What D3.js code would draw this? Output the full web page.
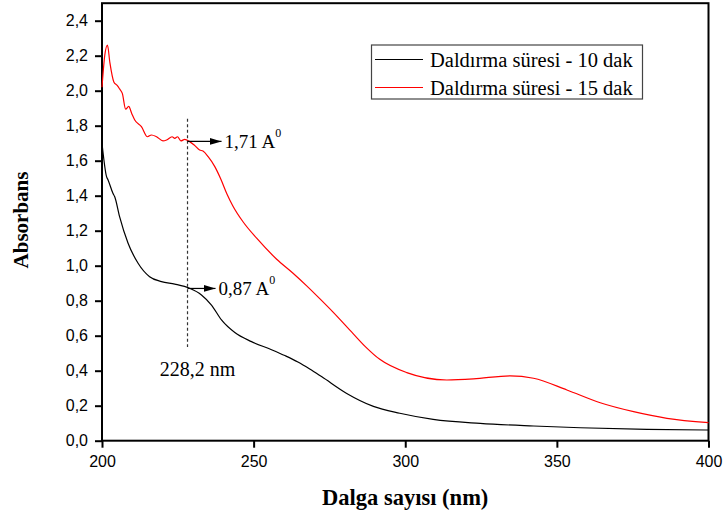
<!DOCTYPE html>
<html>
<head>
<meta charset="utf-8">
<script src="https://cdn.jsdelivr.net/npm/d3@7"></script>
<style>
  html, body { margin: 0; padding: 0; background: #fff; }
  svg { display: block; }
</style>
</head>
<body>
<svg id="chart" width="724" height="517"></svg>
<script>
// Wavelength (nm) and absorbance for the 10-minute immersion sample
const wl10 = [200, 201.5, 202, 203.6, 204.2, 205.8, 208.6, 211.9, 215.7, 219.6, 224, 228.9,
  232.8, 236.1, 239.4, 243.8, 249.3, 255.9, 260.5, 264.6, 268.5, 272.5, 280.7, 289.5, 298.2,
  309.2, 324.7, 342.3, 357.7, 379.7, 400];
const abs10 = [1.70, 1.509, 1.49, 1.414, 1.394, 1.28, 1.128, 1.014, 0.937, 0.909, 0.895, 0.871,
  0.833, 0.775, 0.69, 0.618, 0.566, 0.52, 0.485, 0.45, 0.41, 0.365, 0.27, 0.196, 0.157,
  0.122, 0.099, 0.084, 0.074, 0.065, 0.061];

// Wavelength (nm) and absorbance for the 15-minute immersion sample
const wl15 = [200, 200.9, 201.8, 202.6, 203.9, 205.0, 205.8, 206.7, 207.8, 208.8, 209.8, 210.8,
  213.0, 215.0, 216.3, 218.0, 220.1, 221.3, 223.1, 224.0, 224.9, 226.0, 227.3, 228.9,
  230.4, 232.2, 233.3, 235.0, 237.2, 239.2, 241.2, 243.2, 246.5, 251.0, 257.6, 263.0, 267.5,
  271.8, 276.2, 282.8, 287.0, 291.6, 300.5, 313.7, 322.5, 334.6, 342.3, 353.3, 364.3, 375.3,
  386.3, 400];
const abs15 = [2.02, 2.20, 2.26, 2.16, 2.05, 2.03, 2.01, 1.985, 1.895, 1.91, 1.87, 1.833,
  1.795, 1.737, 1.747, 1.737, 1.713, 1.718, 1.737, 1.728, 1.737, 1.713, 1.722, 1.709,
  1.69, 1.661, 1.655, 1.623, 1.566, 1.494, 1.41, 1.34, 1.251, 1.157, 1.037, 0.957, 0.885,
  0.812, 0.735, 0.612, 0.535, 0.465, 0.389, 0.347, 0.353, 0.371, 0.357, 0.29, 0.217, 0.166,
  0.128, 0.103];

const seriesNames = ["Daldırma süresi - 10 dak", "Daldırma süresi - 15 dak"];
const seriesColors = ["#000000", "#ff0000"];

const xTicks = [200, 250, 300, 350, 400];
const yTicks = [0, 0.2, 0.4, 0.6, 0.8, 1.0, 1.2, 1.4, 1.6, 1.8, 2.0, 2.2, 2.4];

// Marked shoulder position and the absorbances read there
const markWl = 228.2;
const markAbs = [0.87, 1.71];
const markLabels = ["0,87 A", "1,71 A"];
const markNote = "228,2 nm";

const xTitle = "Dalga sayısı (nm)";
const yTitle = "Absorbans";

const svg = d3.select("#chart");
const plotL = 102, plotR = 708.5, plotT = 3.2, plotB = 440.7;

const x = d3.scaleLinear().domain([200, 400]).range([plotL, plotR]);
const y = d3.scaleLinear().domain([0, 2.5]).range([plotB, plotT]);

const comma = d => d3.format(".1f")(d).replace(".", ",");

// Axes
const gx = svg.append("g")
  .attr("transform", `translate(0,${plotB})`)
  .call(d3.axisBottom(x).tickValues(xTicks).tickSize(7).tickPadding(8).tickFormat(d3.format("d")));
const gy = svg.append("g")
  .attr("transform", `translate(${plotL},0)`)
  .call(d3.axisLeft(y).tickValues(yTicks).tickSize(7).tickPadding(7).tickFormat(comma));

[gx, gy].forEach(g => {
  g.select(".domain").remove();
  g.selectAll(".tick line").attr("stroke", "#000").attr("stroke-width", 2);
  g.selectAll(".tick text")
    .attr("fill", "#000")
    .style("font-family", "'Liberation Sans', Arial, sans-serif")
    .style("font-size", "16px");
});

// Plot frame
svg.append("rect")
  .attr("x", plotL).attr("y", plotT)
  .attr("width", plotR - plotL).attr("height", plotB - plotT)
  .attr("fill", "none").attr("stroke", "#000").attr("stroke-width", 2);

// Spectra
const line = d3.line().x(d => x(d[0])).y(d => y(d[1])).curve(d3.curveMonotoneX);
const data10 = wl10.map((w, i) => [w, abs10[i]]);
const data15 = wl15.map((w, i) => [w, abs15[i]]);

svg.append("path").datum(data10)
  .attr("d", line).attr("fill", "none")
  .attr("stroke", seriesColors[0]).attr("stroke-width", 1.2);
svg.append("path").datum(data15)
  .attr("d", line).attr("fill", "none")
  .attr("stroke", seriesColors[1]).attr("stroke-width", 1.2);

// Dashed guide at the marked wavelength
svg.append("line")
  .attr("x1", x(markWl)).attr("x2", x(markWl))
  .attr("y1", y(1.84)).attr("y2", y(0.535))
  .attr("stroke", "#333").attr("stroke-width", 1.2)
  .attr("stroke-dasharray", "3,2.5");

svg.append("text")
  .attr("x", x(markWl) + 10).attr("y", 376)
  .attr("text-anchor", "middle")
  .style("font-family", "'Liberation Serif', 'Times New Roman', serif")
  .style("font-size", "20px")
  .text(markNote);

// Arrows with value labels
const defs = svg.append("defs");
defs.append("marker")
  .attr("id", "arrowhead")
  .attr("viewBox", "0 0 12 8")
  .attr("refX", 12).attr("refY", 4)
  .attr("markerWidth", 12).attr("markerHeight", 8)
  .attr("markerUnits", "userSpaceOnUse")
  .attr("orient", "auto")
  .append("path").attr("d", "M0,0.5 L12,4 L0,7.5 Z").attr("fill", "#000");

const arrowLen = [28, 34];
markAbs.forEach((v, i) => {
  const x0 = x(markWl), yy = y(v);
  const x1 = x0 + arrowLen[i];
  svg.append("line")
    .attr("x1", x0).attr("x2", x1)
    .attr("y1", yy).attr("y2", yy)
    .attr("stroke", "#000").attr("stroke-width", 1.2)
    .attr("marker-end", "url(#arrowhead)");
  const t = svg.append("text")
    .attr("x", x1 + 3).attr("y", yy + 7)
    .style("font-family", "'Liberation Serif', 'Times New Roman', serif")
    .style("font-size", "19px");
  t.append("tspan").text(markLabels[i]);
  t.append("tspan").attr("dy", -11).style("font-size", "12px").text("0");
});

// Legend
const lg = svg.append("g");
lg.append("rect")
  .attr("x", 371.5).attr("y", 45)
  .attr("width", 271).attr("height", 54)
  .attr("fill", "#fff").attr("stroke", "#444").attr("stroke-width", 1.2);
seriesNames.forEach((name, i) => {
  const ly = 59.5 + i * 28;
  lg.append("line")
    .attr("x1", 375).attr("x2", 423)
    .attr("y1", ly).attr("y2", ly)
    .attr("stroke", seriesColors[i]).attr("stroke-width", 1.2);
  lg.append("text")
    .attr("x", 430).attr("y", ly + 7.5)
    .style("font-family", "'Liberation Serif', 'Times New Roman', serif")
    .style("font-size", "20.5px")
    .text(name);
});

// Axis titles
svg.append("text")
  .attr("x", (plotL + plotR) / 2).attr("y", 505)
  .attr("text-anchor", "middle")
  .style("font-family", "'Liberation Serif', 'Times New Roman', serif")
  .style("font-weight", "bold")
  .style("font-size", "22.5px")
  .text(xTitle);

svg.append("text")
  .attr("transform", `translate(28,220) rotate(-90)`)
  .attr("text-anchor", "middle")
  .style("font-family", "'Liberation Serif', 'Times New Roman', serif")
  .style("font-weight", "bold")
  .style("font-size", "21px")
  .text(yTitle);
</script>
</body>
</html>
